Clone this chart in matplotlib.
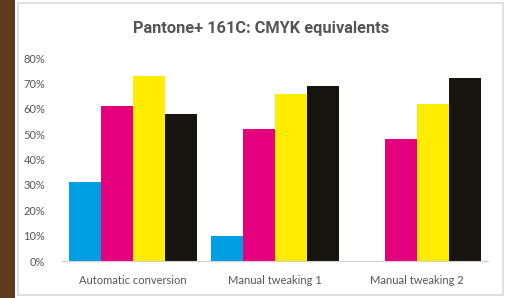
import matplotlib.pyplot as plt
import matplotlib.patches as mpatches
import numpy as np

plt.rcParams['font.family'] = ['Lato', 'DejaVu Sans']

# Chart data
groups = ['Automatic conversion', 'Manual tweaking 1', 'Manual tweaking 2']
inks = ['Cyan', 'Magenta', 'Yellow', 'Black']
cyan = [31, 10, 0]
magenta = [61, 52, 48]
yellow = [73, 66, 62]
black = [58, 69, 72]
colors = ['#009fe3', '#e5007d', '#ffec00', '#15140f']
y_ticks = [0, 10, 20, 30, 40, 50, 60, 70, 80]

fig = plt.figure(figsize=(5.07, 2.98), dpi=100)
fig.patch.set_facecolor('white')

# brown strip on the left and the framed panel
fig.patches.append(mpatches.Rectangle((0, 0), 15 / 507, 1, transform=fig.transFigure,
                                      facecolor='#5f3b1f', edgecolor='none', zorder=-2))
fig.patches.append(mpatches.Rectangle((18 / 507, 3 / 298), 485 / 507, 292 / 298,
                                      transform=fig.transFigure, facecolor='white',
                                      edgecolor='#d9d9d9', linewidth=1.2, zorder=-1))

ax = fig.add_axes([62 / 507, 1 - 261 / 298, 426 / 507, 203 / 298])
ax.set_facecolor('none')
ax.set_zorder(2)

x = np.arange(len(groups))
w = 0.225
series = [cyan, magenta, yellow, black]
for i, vals in enumerate(series):
    ax.bar(x + (i - 1.5) * w, vals, width=w, color=colors[i], label=inks[i], zorder=2)

ax.set_xlim(-0.5, 2.5)
ax.set_ylim(0, 80)
ax.set_yticks(y_ticks)
ax.set_yticklabels([str(t) + '%' for t in y_ticks])
ax.set_xticks(x)
ax.set_xticklabels(groups)
ax.tick_params(axis='both', length=0, colors='#555555', labelsize=8)
ax.tick_params(axis='y', pad=12)
ax.tick_params(axis='x', pad=10)

for s in ['top', 'right', 'left']:
    ax.spines[s].set_visible(False)
ax.spines['bottom'].set_color('#d0d0d0')

fig.text(261 / 507, 1 - 28 / 298, 'Pantone+ 161C: CMYK equivalents', ha='center', va='center',
         fontsize=11.8, fontweight='bold', color='#555555', family=['Roboto', 'DejaVu Sans'])

fig.savefig('out.png', dpi=100)
